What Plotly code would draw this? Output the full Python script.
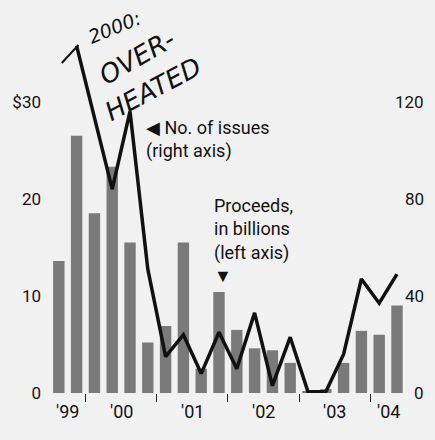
import plotly.graph_objects as go

quarters = ["Q3 1999", "Q4 1999",
            "Q1 2000", "Q2 2000", "Q3 2000", "Q4 2000",
            "Q1 2001", "Q2 2001", "Q3 2001", "Q4 2001",
            "Q1 2002", "Q2 2002", "Q3 2002", "Q4 2002",
            "Q1 2003", "Q2 2003", "Q3 2003", "Q4 2003",
            "Q1 2004", "Q2 2004"]
proceeds = [13.6, 26.5, 18.5, 23.3, 15.5, 5.2, 6.9, 15.5, 2.5, 10.4,
            6.5, 4.6, 4.4, 3.1, 0.2, 0.4, 3.1, 6.4, 6.0, 9.0]
issues = [None, 143, 114, 84, 116, 51, 15, 24, 8, 25,
          10, 33, 3, 23, 0.5, 0.5, 16, 47, 37, 49]
year_labels = ["'99", "'00", "'01", "'02", "'03", "'04"]
year_label_pos = [0.5, 3.5, 7.5, 11.5, 15.5, 18.5]
year_bounds = [1.5, 5.5, 9.5, 13.5, 17.5]
left_ticks = [0, 10, 20, 30]
left_text = ["0", "10", "20", "$30"]
right_ticks = [0, 40, 80, 120]
right_text = ["0", "40", "80", "120"]

FONT = "Roboto, Liberation Sans Narrow, sans-serif"
xs = list(range(len(quarters)))

fig = go.Figure()
fig.add_trace(go.Bar(x=xs, y=proceeds, marker=dict(color="#7a7a7a", line=dict(width=0)),
                     width=0.64, yaxis="y", hovertext=quarters))
fig.add_trace(go.Scatter(x=xs, y=issues, mode="lines", yaxis="y2",
                         line=dict(color="#111111", width=3.5), hovertext=quarters))

fig.update_layout(
    width=435, height=440,
    margin=dict(l=40, r=30, t=25, b=47),
    paper_bgcolor="#f1f1f1", plot_bgcolor="rgba(0,0,0,0)",
    showlegend=False,
    font=dict(family=FONT, color="#111", size=17),
    xaxis=dict(range=[-0.72, 19.45], tickvals=year_bounds, ticktext=[""] * 5,
               ticks="outside", ticklen=8, tickwidth=1.2, tickcolor="#222",
               showgrid=False, zeroline=False, showline=False, fixedrange=True),
    yaxis=dict(range=[0, 37.9], tickvals=left_ticks, ticktext=left_text,
               showgrid=False, zeroline=False, showline=False, ticks="", ticklabelstandoff=4,
               tickfont=dict(size=17)),
    yaxis2=dict(range=[0, 151.6], tickvals=right_ticks, ticktext=[""] * 4,
                overlaying="y", side="right", showgrid=False, zeroline=False,
                showline=False, ticks=""),
)


def px(xp, yp):
    return ((xp - 40) / 365.0, (393 - yp) / 368.0)


ann = []
for lab, pos in zip(year_labels, year_label_pos):
    ann.append(dict(x=pos, y=0, xref="x", yref="y", text=lab, showarrow=False,
                    xanchor="center", yanchor="top", yshift=-6, font=dict(size=18)))
rx = (426 - 40) / 365.0
for v, t in zip(right_ticks, right_text):
    ann.append(dict(x=rx, y=v, xref="paper", yref="y2", text=t, showarrow=False,
                    xanchor="right", yanchor="middle", font=dict(size=17)))

x0, y0 = px(140, 139)
ann.append(dict(x=x0, y=y0, xref="paper", yref="paper", xanchor="left", yanchor="middle",
                text="◀ No. of issues<br>(right axis)", align="left", showarrow=False,
                font=dict(size=18)))
x1, y1 = px(209, 240)
ann.append(dict(x=x1, y=y1, xref="paper", yref="paper", xanchor="left", yanchor="middle",
                text="Proceeds,<br>in billions<br>(left axis)<br>▼", align="left", showarrow=False,
                font=dict(size=18)))
# handwritten note
hw = dict(family="DejaVu Sans, sans-serif", color="#111", style="italic")
x2, y2 = px(110, 27)
ann.append(dict(x=x2, y=y2, xref="paper", yref="paper", text="2000:", showarrow=False,
                xanchor="center", yanchor="middle",
                textangle=-22, font=dict(size=19, **hw)))
x3, y3 = px(133, 57)
ann.append(dict(x=x3, y=y3, xref="paper", yref="paper", text="OVER-", showarrow=False,
                xanchor="center", yanchor="middle",
                textangle=-30, font=dict(size=26, **hw)))
x4, y4 = px(149, 89)
ann.append(dict(x=x4, y=y4, xref="paper", yref="paper", text="HEATED", showarrow=False,
                xanchor="center", yanchor="middle",
                textangle=-28, font=dict(size=26, **hw)))
fig.update_layout(annotations=ann)
xa, ya = px(56, 63)
xb, yb = px(73, 45)
fig.add_shape(type="line", xref="paper", yref="paper", x0=xa, y0=ya, x1=xb, y1=yb,
              line=dict(color="#111", width=2))

fig.write_html("out.html")
